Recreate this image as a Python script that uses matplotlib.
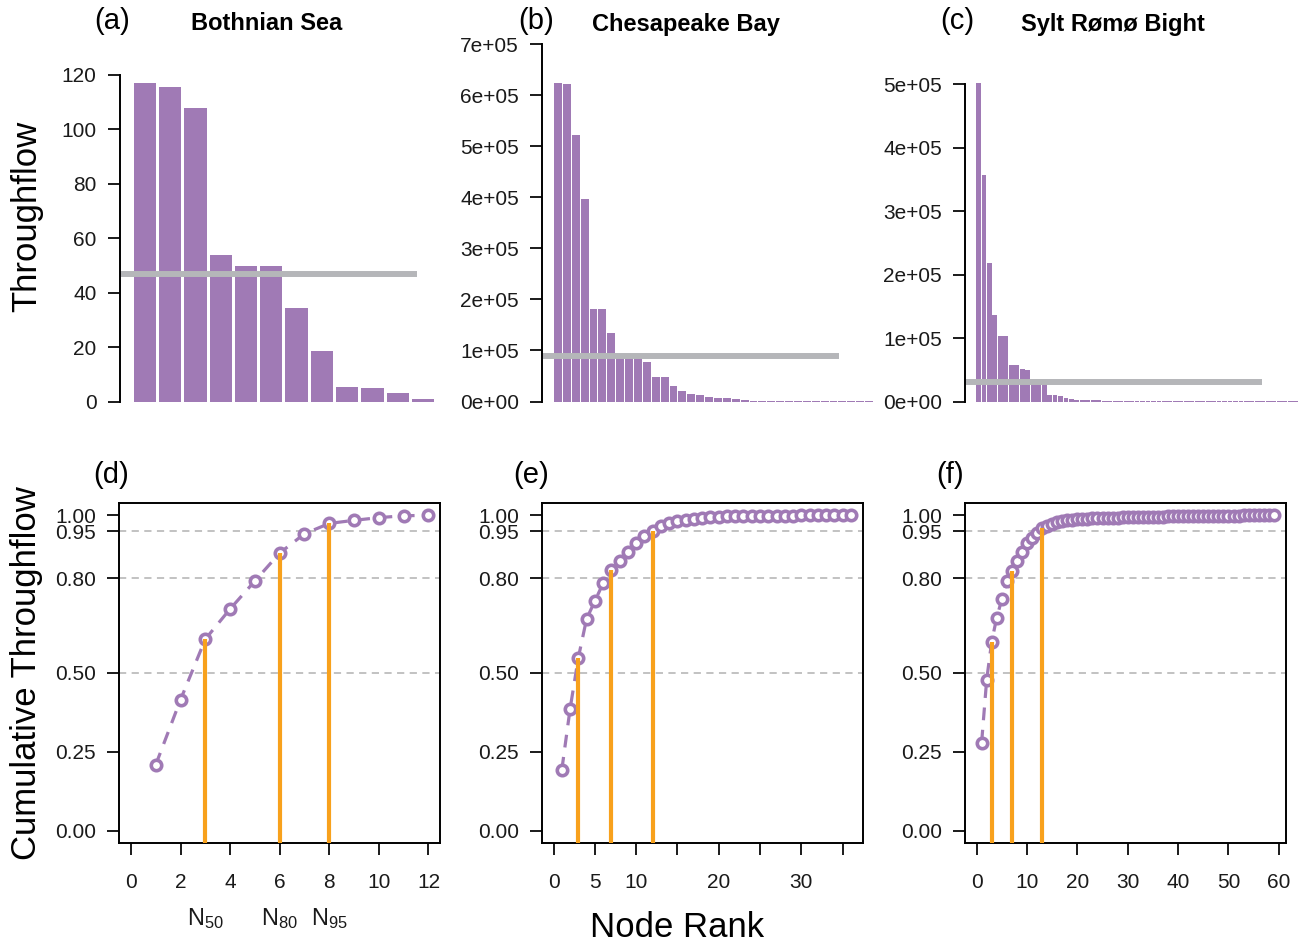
import numpy as np
import matplotlib
matplotlib.use("Agg")
from matplotlib import pyplot as plt

plt.rcParams['font.family'] = ['Liberation Sans', 'DejaVu Sans']
plt.rcParams['mathtext.default'] = 'regular'

site_names = ["Bothnian Sea", "Chesapeake Bay", "Sylt Rømø Bight"]
top_tags = ["(a)", "(b)", "(c)"]
bottom_tags = ["(d)", "(e)", "(f)"]

# throughflow per node, ranked
bothnian_flow = [117.0, 115.6, 107.8, 53.7, 49.7, 49.7, 34.2, 18.4, 5.5, 4.8, 3.3, 0.8]
chesapeake_flow = [625000, 623000, 523000, 397000, 182000, 182000, 135000, 93000, 91000,
                   90000, 78000, 48500, 48500, 31000, 20000, 14000, 12000, 8500, 6500,
                   6500, 4500, 2800, 600, 550, 500, 450, 420, 400, 380, 350, 330, 300,
                   280, 260, 240, 220]
sylt_flow = [502000, 357000, 218000, 136500, 103500, 103500, 56700, 56700, 51500, 50000,
             31000, 30000, 29000, 11000, 11000, 9000, 5800, 4300, 3000, 2700, 2700, 2200,
             2200, 900, 850, 800, 780, 750, 720, 700, 680, 650, 620, 600, 580, 560, 540,
             520, 500, 480, 460, 440, 420, 400, 380, 360, 340, 320, 300, 280, 260, 240,
             220, 200, 180, 160, 140, 120, 100]

top_ticks = [[0, 20, 40, 60, 80, 100, 120],
             [0, 1e5, 2e5, 3e5, 4e5, 5e5, 6e5, 7e5],
             [0, 1e5, 2e5, 3e5, 4e5, 5e5]]
top_ticklabels = [["0", "20", "40", "60", "80", "100", "120"],
                  ["0e+00", "1e+05", "2e+05", "3e+05", "4e+05", "5e+05", "6e+05", "7e+05"],
                  ["0e+00", "1e+05", "2e+05", "3e+05", "4e+05", "5e+05"]]
cum_ticks = [0, 0.25, 0.5, 0.8, 0.95, 1.0]
cum_ticklabels = ["0.00", "0.25", "0.50", "0.80", "0.95", "1.00"]
thresholds = [0.5, 0.8, 0.95]
n_labels = [r"$N_{50}$", r"$N_{80}$", r"$N_{95}$"]
bottom_xticks = [[0, 2, 4, 6, 8, 10, 12],
                 [0, 5, 10, 15, 20, 25, 30, 35],
                 [0, 10, 20, 30, 40, 50, 60]]
bottom_xticklabels = [["0", "2", "4", "6", "8", "10", "12"],
                      ["0", "5", "10", "", "20", "", "30", ""],
                      ["0", "10", "20", "30", "40", "50", "60"]]

purple = "#a07ab5"
orange = "#f8a11c"
mean_gray = "#b5b6b9"
grid_gray = "#bdbdbd"

W, H = 1307, 947
fig = plt.figure(figsize=(W / 100, H / 100), dpi=100)


def px_axes(left, top, right, bottom):
    return fig.add_axes([left / W, 1 - bottom / H, (right - left) / W, (bottom - top) / H])


def style_ticks(ax):
    ax.tick_params(direction="out", length=8.5, width=1.4, labelsize=15, pad=8,
                   colors="#1a1a1a")


all_flows = [bothnian_flow, chesapeake_flow, sylt_flow]

# top row: bar charts
top_boxes = [(119.5, 448.4), (541.7, 880.0), (964.7, 1300.0)]
top_xlims = [(0, 13), (-0.83, 37.23), (-1.52, 59.8)]
top_ylims = [(0, 132.8), (0, 7.088e5), (0, 5.693e5)]
for i, flow in enumerate(all_flows):
    left, right = top_boxes[i]
    ax = px_axes(left, 40, right, 401.5)
    ranks = np.arange(1, len(flow) + 1)
    ax.bar(ranks, flow, width=0.88, color=purple, linewidth=0)
    mean_flow = np.mean(flow)
    ax.axhline(mean_flow, xmin=0, xmax=297 / (right - left), color=mean_gray,
               linewidth=4.3, solid_capstyle="butt")
    ax.set_xlim(top_xlims[i])
    ax.set_ylim(top_ylims[i])
    for side in ["top", "right", "bottom"]:
        ax.spines[side].set_visible(False)
    ax.spines["left"].set_linewidth(1.4)
    ax.spines["left"].set_bounds(top_ticks[i][0], top_ticks[i][-1])
    ax.set_xticks([])
    ax.set_yticks(top_ticks[i])
    ax.set_yticklabels(top_ticklabels[i])
    style_ticks(ax)
    ax.patch.set_alpha(0)

# bottom row: cumulative throughflow
bottom_boxes = [(119.0, 440.4), (541.7, 862.7), (964.7, 1285.7)]
for i, flow in enumerate(all_flows):
    left, right = bottom_boxes[i]
    ax = px_axes(left, 502.7, right, 843.3)
    n = len(flow)
    ranks = np.arange(1, n + 1)
    cum_flow = np.cumsum(flow) / np.sum(flow)
    for t in thresholds:
        ax.axhline(t, color=grid_gray, linewidth=1.3, linestyle=(0, (4, 3)), zorder=1)
    ax.plot(ranks, cum_flow, color=purple, linewidth=2.3, linestyle=(0, (4, 3)),
            marker="o", markersize=7.5, markeredgewidth=2.6, markerfacecolor="white",
            markeredgecolor=purple, zorder=3)
    for j, t in enumerate(thresholds):
        n_t = int(np.argmax(cum_flow >= t)) + 1
        ax.plot([n_t, n_t], [-0.04, cum_flow[n_t - 1]], color=orange, linewidth=3,
                solid_capstyle="butt", zorder=4)
        if i == 0:
            ax.text(n_t, -0.22, n_labels[j], transform=ax.get_xaxis_transform(),
                    ha="center", va="center", fontsize=17, color="#1a1a1a")
    ax.set_xlim(-0.04 * n, 1.04 * n)
    ax.set_ylim(-0.04, 1.04)
    ax.set_xticks(bottom_xticks[i])
    ax.set_xticklabels(bottom_xticklabels[i])
    ax.set_yticks(cum_ticks)
    ax.set_yticklabels(cum_ticklabels)
    for side in ax.spines.values():
        side.set_linewidth(1.4)
    style_ticks(ax)
    ax.tick_params(axis="x", pad=13)

# panel tags and titles
tag_x = [112, 536, 957]
title_x = [267, 686, 1113]
for i in range(3):
    fig.text(tag_x[i] / W, 1 - 21 / H, top_tags[i], ha="center", va="center", fontsize=21)
    fig.text(title_x[i] / W, 1 - 24 / H, site_names[i], ha="center", va="center",
             fontsize=17, fontweight="bold")
bottom_tag_x = [111, 531, 950]
for i in range(3):
    fig.text(bottom_tag_x[i] / W, 1 - 475 / H, bottom_tags[i], ha="center", va="center",
             fontsize=21)

fig.text(27 / W, 1 - 216 / H, "Throughflow", rotation=90, ha="center", va="center",
         fontsize=25)
fig.text(27 / W, 1 - 673 / H, "Cumulative Throughflow", rotation=90, ha="center",
         va="center", fontsize=25)
fig.text(677 / W, 1 - 927 / H, "Node Rank", ha="center", va="center", fontsize=25)

fig.savefig("out.png", dpi=100)
